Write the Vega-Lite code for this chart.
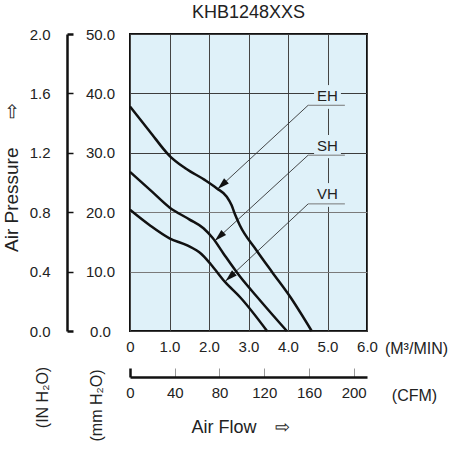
{
  "$schema": "https://vega.github.io/schema/vega-lite/v6.json",
  "autosize": {"type": "none"},
  "width": 237,
  "height": 297,
  "padding": {"left": 130, "top": 34, "right": 84, "bottom": 119},
  "background": "white",
  "config": {
    "font": "Liberation Sans",
    "view": {"fill": "#dff1f9", "stroke": "#111", "strokeWidth": 2},
    "axis": {"labelFont": "Liberation Sans", "titleFont": "Liberation Sans", "labelFontSize": 15, "labelColor": "#222", "titleColor": "#222", "titleFontWeight": "normal"}
  },
  "title": {"text": "KHB1248XXS", "fontSize": 18, "fontWeight": "normal", "font": "Liberation Sans", "color": "#222", "offset": 5},
  "datasets": {
    "curves": [
      {"series": "EH", "x": 0, "y": 37.8}, {"series": "EH", "x": 0.5, "y": 33.6}, {"series": "EH", "x": 1.0, "y": 29.5}, {"series": "EH", "x": 1.4, "y": 27.4}, {"series": "EH", "x": 1.9, "y": 25.4}, {"series": "EH", "x": 2.2, "y": 24.0}, {"series": "EH", "x": 2.45, "y": 22.6}, {"series": "EH", "x": 2.57, "y": 21.2}, {"series": "EH", "x": 2.66, "y": 19.6}, {"series": "EH", "x": 2.78, "y": 17.8}, {"series": "EH", "x": 3.2, "y": 13.6}, {"series": "EH", "x": 3.6, "y": 9.9}, {"series": "EH", "x": 4.05, "y": 5.8}, {"series": "EH", "x": 4.6, "y": 0},
      {"series": "SH", "x": 0, "y": 26.8}, {"series": "SH", "x": 0.55, "y": 23.5}, {"series": "SH", "x": 1.0, "y": 20.8}, {"series": "SH", "x": 1.5, "y": 18.8}, {"series": "SH", "x": 1.86, "y": 17.3}, {"series": "SH", "x": 2.1, "y": 15.6}, {"series": "SH", "x": 2.36, "y": 13.1}, {"series": "SH", "x": 2.78, "y": 9.2}, {"series": "SH", "x": 3.3, "y": 5.1}, {"series": "SH", "x": 3.97, "y": 0},
      {"series": "VH", "x": 0, "y": 20.4}, {"series": "VH", "x": 0.5, "y": 17.8}, {"series": "VH", "x": 1.0, "y": 15.6}, {"series": "VH", "x": 1.45, "y": 14.4}, {"series": "VH", "x": 1.8, "y": 13.0}, {"series": "VH", "x": 2.05, "y": 11.2}, {"series": "VH", "x": 2.4, "y": 8.3}, {"series": "VH", "x": 2.8, "y": 5.6}, {"series": "VH", "x": 3.47, "y": 0}
    ],
    "labels": [
      {"label": "EH", "x": 5.0, "y": 39.5},
      {"label": "SH", "x": 5.0, "y": 31.1},
      {"label": "VH", "x": 5.0, "y": 23.1}
    ],
    "boxes": [
      {"label": "EH", "x": 4.66, "x2": 5.34, "y": 37.4, "y2": 41.4},
      {"label": "SH", "x": 4.66, "x2": 5.34, "y": 29.1, "y2": 33.0},
      {"label": "VH", "x": 4.66, "x2": 5.34, "y": 20.9, "y2": 24.9}
    ],
    "underlines": [
      {"label": "EH", "x": 4.51, "x2": 5.44, "y": 38.0},
      {"label": "SH", "x": 4.51, "x2": 5.44, "y": 29.6},
      {"label": "VH", "x": 4.51, "x2": 5.44, "y": 21.4}
    ],
    "leaders": [
      {"label": "EH", "x": 2.22, "y": 23.9, "x2": 4.51, "y2": 38.0},
      {"label": "SH", "x": 2.15, "y": 15.2, "x2": 4.51, "y2": 29.6},
      {"label": "VH", "x": 2.42, "y": 8.4, "x2": 4.51, "y2": 21.4}
    ]
  },
  "layer": [
    {
      "encoding": {
        "x": {"field": "x", "type": "quantitative", "scale": {"domain": [0, 6], "nice": false},
          "axis": {"orient": "bottom", "values": [0, 1, 2, 3, 4, 5, 6], "domain": false, "ticks": false, "labelPadding": 8,
            "labelExpr": "datum.value == 0 ? '0' : format(datum.value, '.1f')", "labelFlush": false, "labelOverlap": false,
            "grid": true, "gridColor": "#444", "gridWidth": 1,
            "title": "(M³/MIN)", "titleFontSize": 16, "titleX": 286, "titleY": 17, "titleAlign": "center", "titleBaseline": "middle"}},
        "y": {"field": "y", "type": "quantitative", "scale": {"domain": [0, 50], "nice": false},
          "axis": {"orient": "right", "offset": -300, "values": [0, 10, 20, 30, 40, 50], "format": ".1f", "domain": false,
            "ticks": true, "tickSize": 6, "tickColor": "#111",
            "tickWidth": {"condition": {"test": "datum.value == 0 || datum.value == 50", "value": 2.5}, "value": 1.5},
            "labelAlign": "center", "labelPadding": 27, "labelOverlap": false,
            "grid": true, "gridWidth": 1,
            "gridColor": {"condition": {"test": "datum.value > 0 && datum.value <= 20", "value": "#7a7a7a"}, "value": "#3d3d3d"},
            "title": "(mm H₂O)", "titleFontSize": 16, "titleAngle": -90, "titleX": 29, "titleY": 371, "titleAlign": "center", "titleBaseline": "middle"}}
      },
      "layer": [
        {"data": {"name": "boxes"}, "mark": {"type": "rect", "fill": "#dff1f9"}, "encoding": {"x2": {"field": "x2"}, "y2": {"field": "y2"}}},
        {"data": {"name": "labels"}, "mark": {"type": "text", "fontSize": 15, "font": "Liberation Sans", "color": "#222", "align": "center", "baseline": "middle"}, "encoding": {"text": {"field": "label"}}},
        {"data": {"name": "underlines"}, "mark": {"type": "rule", "color": "#777", "strokeWidth": 1}, "encoding": {"x2": {"field": "x2"}}},
        {"data": {"name": "leaders"}, "mark": {"type": "rule", "color": "#333", "strokeWidth": 0.9}, "encoding": {"x2": {"field": "x2"}, "y2": {"field": "y2"}}},
        {"data": {"name": "leaders"}, "mark": {"type": "point", "shape": "M0,0L-0.29,-1L0.29,-1Z", "size": 576, "filled": true, "color": "#111", "opacity": 1, "angle": 47, "strokeWidth": 0}},
        {"data": {"name": "curves"}, "mark": {"type": "line", "color": "#111", "strokeWidth": 2.5, "interpolate": "monotone"}, "encoding": {"detail": {"field": "series"}}}
      ]
    },
    {
      "data": {"values": [{"cfm": 0, "inh": 0}]},
      "mark": {"type": "point", "opacity": 0},
      "encoding": {
        "x": {"field": "cfm", "type": "quantitative", "scale": {"domain": [0, 211.888], "nice": false},
          "axis": {"orient": "bottom", "offset": 46, "values": [0, 40, 80, 120, 160, 200], "domain": true, "domainColor": "#111", "domainWidth": 2.5,
            "ticks": true, "tickSize": -9,
            "tickColor": {"condition": {"test": "datum.value == 0", "value": "#111"}, "value": "#999"},
            "tickWidth": {"condition": {"test": "datum.value == 0", "value": 2.5}, "value": 1},
            "labelPadding": 17, "labelFlush": false, "labelOverlap": false, "grid": false,
            "title": "(CFM)", "titleFontSize": 16, "titleX": 284, "titleY": 18, "titleAlign": "center", "titleBaseline": "middle"}},
        "y": {"field": "inh", "type": "quantitative", "scale": {"domain": [0, 2], "nice": false},
          "axis": {"orient": "left", "offset": 63, "values": [0, 0.4, 0.8, 1.2, 1.6, 2], "format": ".1f", "domain": true, "domainColor": "#111", "domainWidth": 2.5,
            "ticks": false, "labelPadding": 17, "labelOverlap": false, "grid": false,
            "title": "(IN H₂O)", "titleFontSize": 16, "titleAngle": -90, "titleX": -25, "titleY": 363, "titleAlign": "center", "titleBaseline": "middle"}}
      }
    },
    {
      "data": {"values": [{"a": 0, "b": 0}]},
      "mark": {"type": "point", "opacity": 0},
      "encoding": {
        "x": {"field": "a", "type": "quantitative", "scale": {"domain": [0, 1]},
          "axis": {"orient": "bottom", "domain": false, "ticks": false, "labels": false, "grid": false,
            "title": "Air Flow\u2003⇨", "titleFontSize": 18, "titleX": 110, "titleY": 96, "titleAlign": "center", "titleBaseline": "middle"}},
        "y": {"field": "b", "type": "quantitative", "scale": {"domain": [0, 1]},
          "axis": {"orient": "left", "domain": false, "ticks": false, "labels": false, "grid": false,
            "title": "Air Pressure\u2003\u2002⇨", "titleFontSize": 19, "titleAngle": -90, "titleX": -119, "titleY": 143, "titleAlign": "center", "titleBaseline": "middle"}}
      }
    }
  ],
  "resolve": {"scale": {"x": "independent", "y": "independent"}, "axis": {"x": "independent", "y": "independent"}}
}
